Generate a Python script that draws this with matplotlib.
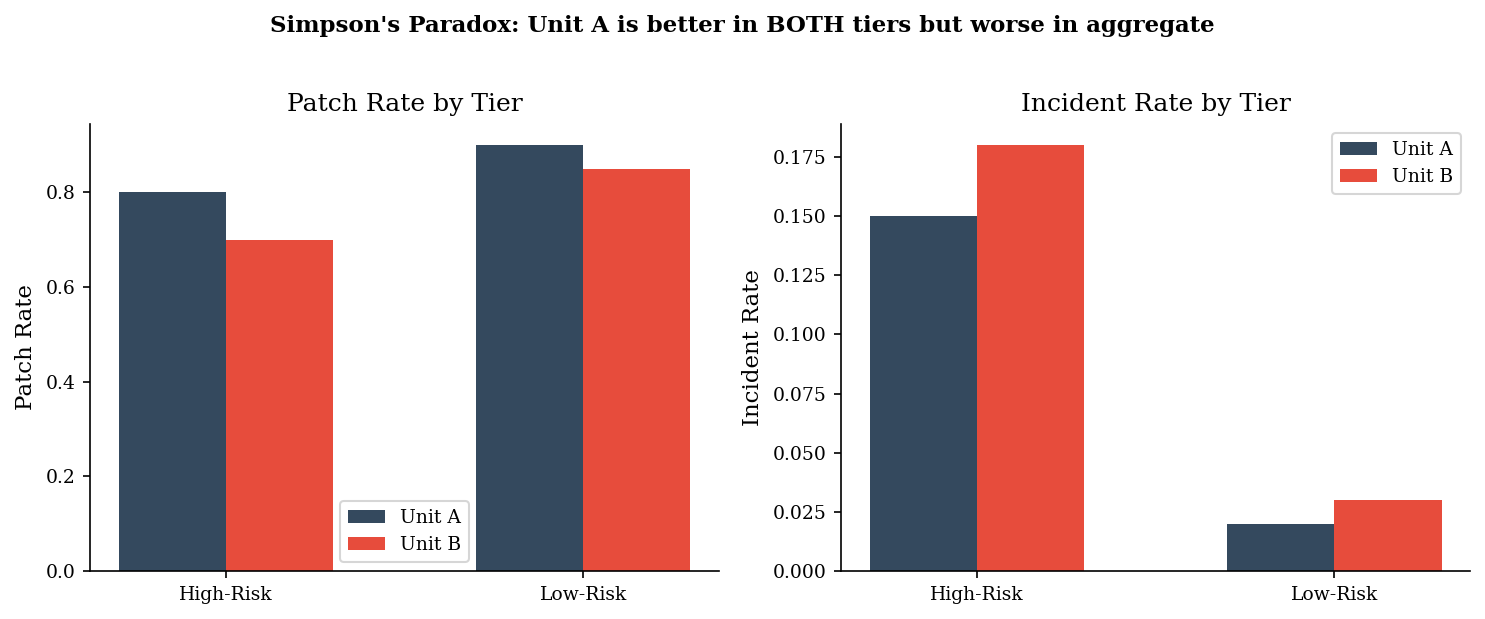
import matplotlib
matplotlib.use("Agg")
import matplotlib.pyplot as plt
import numpy as np

plt.rcParams["font.family"] = ["DejaVu Serif"]

tiers = ["High-Risk", "Low-Risk"]
units = ["Unit A", "Unit B"]
patch_a = [0.80, 0.90]
patch_b = [0.70, 0.85]
incident_a = [0.15, 0.02]
incident_b = [0.18, 0.03]
colors = ["#34495e", "#e74c3c"]

fig, axes = plt.subplots(1, 2, figsize=(9.9, 4.127), dpi=150)
fig.subplots_adjust(left=0.0606, right=0.99, top=0.80, bottom=0.0775, wspace=0.194)
x = np.arange(len(tiers))
w = 0.3

panels = [
    (axes[0], patch_a, patch_b, "Patch Rate by Tier", "Patch Rate", "lower center"),
    (axes[1], incident_a, incident_b, "Incident Rate by Tier", "Incident Rate", "upper right"),
]
for ax, a, b, title, ylabel, loc in panels:
    ax.bar(x - w / 2, a, w, color=colors[0], label=units[0])
    ax.bar(x + w / 2, b, w, color=colors[1], label=units[1])
    ax.set_xticks(x)
    ax.set_xticklabels(tiers, fontsize=9)
    ax.tick_params(axis="y", labelsize=9)
    ax.set_title(title, fontsize=12)
    ax.set_ylabel(ylabel, fontsize=11)
    ax.spines["top"].set_visible(False)
    ax.spines["right"].set_visible(False)
    ax.legend(loc=loc, fontsize=9)

fig.suptitle("Simpson's Paradox: Unit A is better in BOTH tiers but worse in aggregate",
             fontsize=11, fontweight="bold", y=0.976)
fig.savefig("out.png", dpi=150)
